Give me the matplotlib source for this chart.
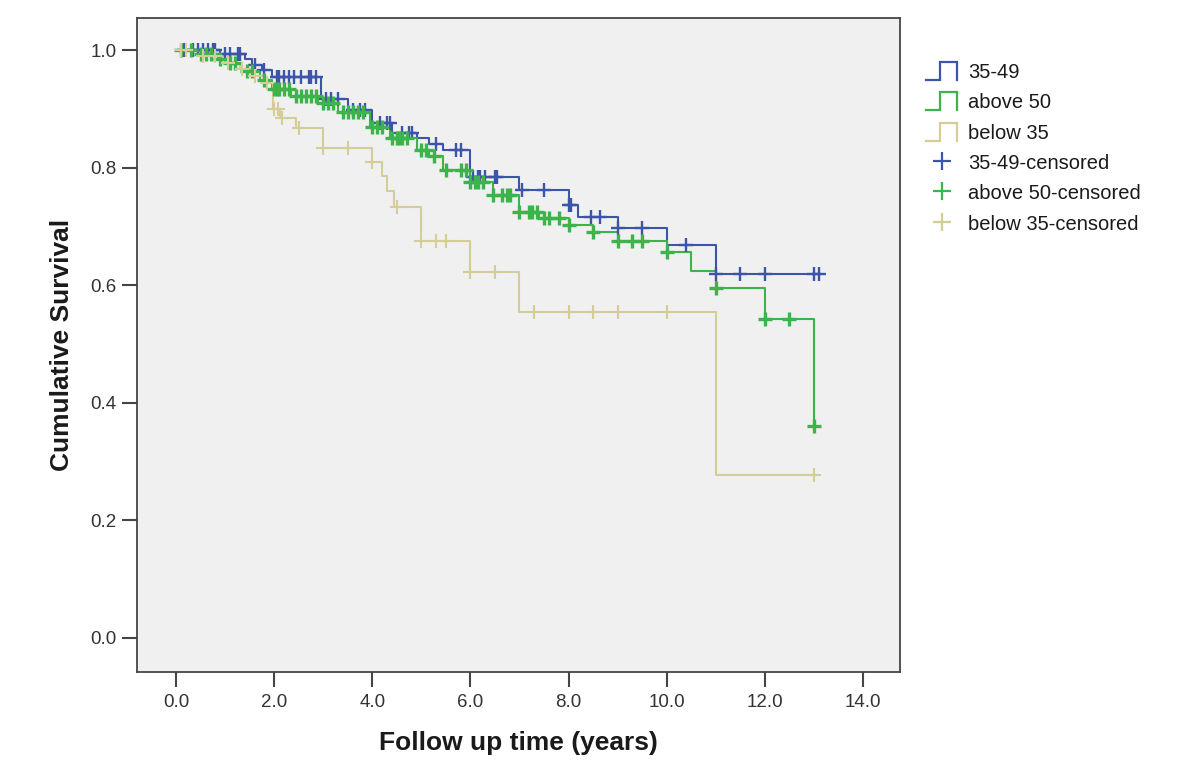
import numpy as np
import matplotlib
matplotlib.use("Agg")
import matplotlib.pyplot as plt
from matplotlib.legend_handler import HandlerBase
from matplotlib.lines import Line2D

# ---------------- data ----------------
group_labels = ["35-49", "above 50", "below 35"]
censor_labels = ["35-49-censored", "above 50-censored", "below 35-censored"]

# 35-49 : event times and survival after each step
t_35_49 = [0.0, 0.9, 1.4, 1.55, 1.75, 1.95, 2.95, 3.5, 4.0, 4.4, 4.9, 5.15, 5.45,
           6.0, 7.0, 8.0, 8.2, 9.0, 10.0, 11.0]
s_35_49 = [1.0, 0.993, 0.985, 0.975, 0.966, 0.955, 0.918, 0.898, 0.876, 0.860, 0.851,
           0.840, 0.830, 0.784, 0.762, 0.736, 0.716, 0.697, 0.668, 0.620]
c_35_49 = [0.15, 0.35, 0.45, 0.55, 0.65, 0.75, 0.8, 1.0, 1.1, 1.25, 1.3, 1.6, 1.8,
           2.05, 2.1, 2.2, 2.3, 2.4, 2.55, 2.7, 2.75, 2.85, 3.05, 3.15, 3.3, 3.6,
           3.75, 3.85, 4.15, 4.3, 4.35, 4.6, 4.75, 4.8, 5.3, 5.7, 5.8, 6.05, 6.15,
           6.2, 6.3, 6.5, 6.55, 7.05, 7.5, 8.0, 8.05, 8.45, 8.65, 9.0, 9.5, 10.4,
           11.0, 11.5, 12.0, 13.0, 13.1]

# above 50
t_above_50 = [0.0, 0.45, 0.85, 1.05, 1.35, 1.7, 1.95, 2.35, 2.9, 3.3, 3.95, 4.35,
              4.9, 5.15, 5.45, 6.0, 6.45, 7.0, 7.4, 8.0, 8.5, 9.0, 10.0, 10.5,
              11.0, 12.0, 13.0]
s_above_50 = [1.0, 0.993, 0.985, 0.978, 0.965, 0.95, 0.935, 0.922, 0.91, 0.895,
              0.87, 0.85, 0.83, 0.82, 0.797, 0.776, 0.753, 0.724, 0.714, 0.702,
              0.69, 0.676, 0.656, 0.625, 0.595, 0.542, 0.36]
c_above_50 = [0.1, 0.3, 0.5, 0.6, 0.7, 0.9, 1.1, 1.2, 1.45, 1.55, 1.8, 2.0, 2.05,
              2.1, 2.2, 2.3, 2.45, 2.55, 2.65, 2.75, 2.85, 3.0, 3.1, 3.2, 3.4, 3.5,
              3.6, 3.7, 3.8, 4.0, 4.1, 4.2, 4.4, 4.5, 4.55, 4.6, 4.7, 5.0, 5.1,
              5.25, 5.5, 5.8, 5.9, 6.0, 6.1, 6.15, 6.25, 6.45, 6.65, 6.75, 6.8,
              7.0, 7.2, 7.25, 7.35, 7.5, 7.6, 7.8, 8.0, 8.5, 9.0, 9.3, 9.5, 10.0,
              11.0, 12.0, 12.5, 13.0]

# below 35
t_below_35 = [0.0, 0.5, 1.0, 1.3, 1.55, 1.8, 1.98, 2.12, 2.45, 3.0, 4.0, 4.2, 4.3,
              4.45, 5.0, 6.0, 7.0, 11.0]
s_below_35 = [1.0, 0.99, 0.978, 0.968, 0.957, 0.945, 0.90, 0.885, 0.867, 0.833,
              0.81, 0.786, 0.76, 0.733, 0.676, 0.622, 0.554, 0.278]
c_below_35 = [0.1, 0.2, 0.55, 0.8, 1.05, 1.35, 1.6, 1.85, 2.0, 2.07, 2.15, 2.5,
              3.0, 3.5, 4.0, 4.5, 5.0, 5.3, 5.5, 6.0, 6.5, 7.3, 8.0, 8.5, 9.0,
              10.0, 13.0]

x_ticks = [0.0, 2.0, 4.0, 6.0, 8.0, 10.0, 12.0, 14.0]
y_ticks = [0.0, 0.2, 0.4, 0.6, 0.8, 1.0]

colors = ["#3d55a8", "#3cb44b", "#d4cd98"]
marker_width = [1.7, 2.4, 1.5]

# ---------------- figure ----------------
plt.rcParams["font.family"] = ["Liberation Sans", "DejaVu Sans"]
fig = plt.figure(figsize=(12, 7.83), dpi=100)
fig.patch.set_facecolor("white")
ax = fig.add_axes([137 / 1200, 1 - 672 / 783, (900 - 137) / 1200, (672 - 18) / 783])
ax.set_facecolor("#f0f0f0")

groups = [
    (t_35_49, s_35_49, c_35_49),
    (t_above_50, s_above_50, c_above_50),
    (t_below_35, s_below_35, c_below_35),
]

for (t, s, c), col, mw in zip(groups, colors, marker_width):
    t = np.asarray(t, float)
    s = np.asarray(s, float)
    c = np.asarray(c, float)
    end = max(t.max(), c.max())
    xs = np.append(t, end)
    ys = np.append(s, s[-1])
    ax.step(xs, ys, where="post", color=col, lw=1.5, zorder=3)
    idx = np.searchsorted(t, c, side="right") - 1
    ax.plot(c, s[idx], linestyle="none", marker="+", markersize=10,
            markeredgewidth=mw, color=col, zorder=4)

ax.set_xlim(-0.8, 14.76)
ax.set_ylim(-0.058, 1.055)
ax.set_xticks(x_ticks)
ax.set_yticks(y_ticks)
ax.set_xticklabels([f"{v:.1f}" for v in x_ticks])
ax.set_yticklabels([f"{v:.1f}" for v in y_ticks])

for sp in ax.spines.values():
    sp.set_color("#454545")
    sp.set_linewidth(1.3)
ax.tick_params(axis="both", direction="out", length=10.5, width=1.5,
               color="#454545", labelsize=13.5, labelcolor="#333333")
ax.tick_params(axis="x", pad=5)
ax.tick_params(axis="y", pad=4)

ax.set_xlabel("Follow up time (years)", fontsize=19, fontweight="bold", color="#1a1a1a")
ax.set_ylabel("Cumulative Survival", fontsize=19, fontweight="bold", color="#1a1a1a")
ax.xaxis.set_label_coords(0.5, -0.09)
ax.yaxis.set_label_coords(-0.082, 0.5)


# ---------------- legend ----------------
class StepHandler(HandlerBase):
    def create_artists(self, legend, orig_handle, xdescent, ydescent, width,
                       height, fontsize, trans):
        x0 = -xdescent
        y0 = -ydescent
        w = width
        h = height
        xs = [x0, x0 + 0.45 * w, x0 + 0.45 * w, x0 + w, x0 + w]
        ys = [y0, y0, y0 + h, y0 + h, y0]
        ln = Line2D(xs, ys, color=orig_handle.get_color(), lw=1.6,
                    solid_joinstyle="miter", transform=trans)
        return [ln]


step_handles = [Line2D([], [], color=col) for col in colors]
cens_handles = [Line2D([], [], linestyle="none", marker="+", markersize=13,
                       markeredgewidth=1.6, color=col) for col in colors]
handler_map = {h: StepHandler() for h in step_handles}

leg = fig.legend(step_handles + cens_handles, group_labels + censor_labels,
                 handler_map=handler_map, loc="upper left",
                 bbox_to_anchor=(926 / 1200, 1 - 62 / 783), frameon=False,
                 fontsize=14.5, handlelength=1.55, handleheight=1.0,
                 handletextpad=0.55, labelspacing=0.52, borderpad=0,
                 borderaxespad=0)
for txt in leg.get_texts():
    txt.set_color("#1a1a1a")

fig.savefig("out.png", dpi=100, facecolor="white")
